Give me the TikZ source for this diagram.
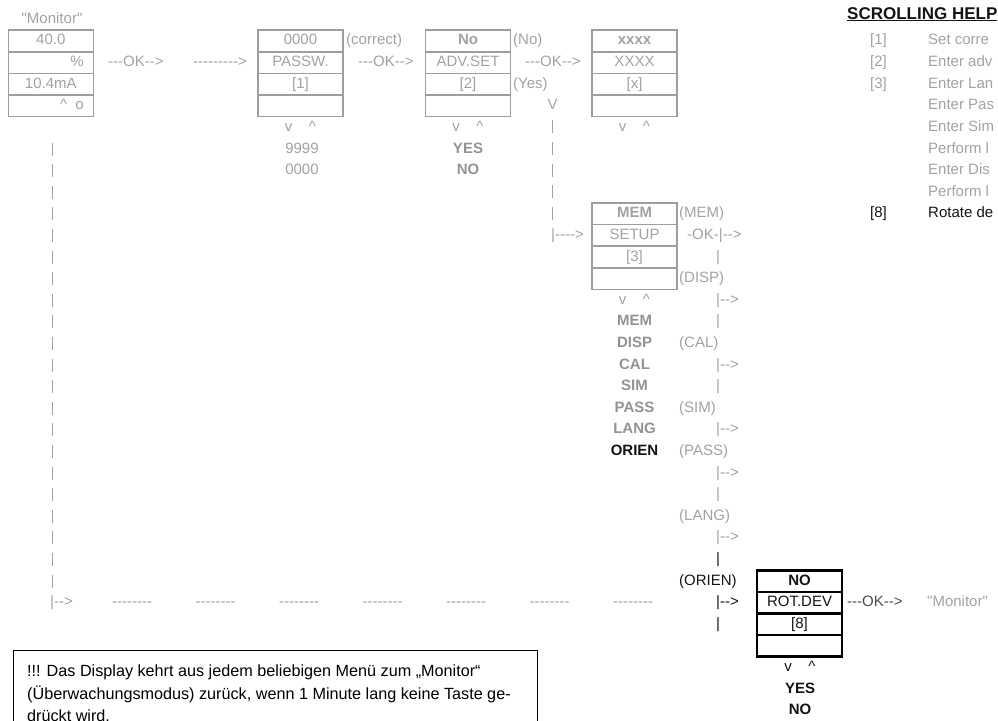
\documentclass[tikz,border=0pt]{standalone}
\usepackage{fontspec}
\newfontfamily\lcdfont{Liberation Sans}
\usetikzlibrary{calc}
\definecolor{lcdgray}{HTML}{A2A2A2}
\definecolor{lcdbold}{HTML}{939393}
\definecolor{lcdframe}{HTML}{9E9E9E}
\definecolor{lcdink}{HTML}{141414}
\definecolor{lcdokdark}{HTML}{4C4C4C}
\tikzset{
  graytext/.style={font=\lcdfont\fontsize{15}{18}\selectfont, text=lcdgray,
    inner sep=0pt, text height=11pt, text depth=3pt},
  graybold/.style={graytext, font=\lcdfont\bfseries\fontsize{15}{18}\selectfont, text=lcdbold},
  blacktext/.style={graytext, text=lcdink},
  blackbold/.style={graybold, text=lcdink},
  helphead/.style={blackbold, font=\lcdfont\bfseries\fontsize{17}{20}\selectfont},
  graybox/.style={draw=lcdframe, line width=1.6pt},
  blackbox/.style={draw=black, line width=2.6pt},
  bardash/.style={draw=lcdgray, line width=1pt, dash pattern=on 13pt off 8.6pt},
  notebox/.style={draw=black, line width=1.2pt},
  notetext/.style={font=\lcdfont\fontsize{16.2}{22.5}\selectfont, text=black,
    align=left, inner sep=0pt}
}
% one display screen: frame, row lines and the four text rows
\newcommand{\lcdbox}[9]{%
  \node[#1, minimum width=85pt, minimum height=86.4pt, inner sep=0pt] (#3) at (#4,#5+1.5) {};
  \foreach \r in {1,2,3}
    \draw[#1] (#4-42.5,#5-0.5+\r) -- (#4+42.5,#5-0.5+\r);
  \node[#2] (#3-a) at (#4,#5) {#6};
  \node[#2] (#3-b) at (#4,#5+1) {#7};
  \node[#2] (#3-c) at (#4,#5+2) {#8};
  \node[#2] (#3-d) at (#4,#5+3) {#9};
}

\begin{document}
\begin{tikzpicture}[x=1pt, y=-21.6pt, shift={(0pt,-41pt)}]
  \useasboundingbox (0,-1.8981) rectangle (998,31.4352);

  % top line of screens, x in pt, y in text rows
  \node[graytext] (montitle) at (52,-1) {"Monitor"};
  \lcdbox{graybox}{graytext}{monitor}{50.8}{0}{40.0}{\makebox[66pt][r]{\%}}{10.4mA}%
    {\makebox[66pt][r]{\textasciicircum\ \ o}}
  \node[graytext, anchor=west] (ok1) at (108,1) {---OK-->};
  \node[graytext, anchor=west] (go1) at (193,1) {--------->};

  \lcdbox{graybox}{graytext}{passw}{300.5}{0}{0000}{PASSW.}{[1]}{}
  \node[graytext, anchor=west] (correct) at (346,0) {(correct)};
  \node[graytext, anchor=west] (ok2) at (358,1) {---OK-->};

  \lcdbox{graybox}{graytext}{advset}{468}{0}{\textbf{No}}{ADV.SET}{[2]}{}
  \node[graytext, anchor=west] (advno) at (513,0) {(No)};
  \node[graytext, anchor=west] (ok3) at (525,1) {---OK-->};
  \node[graytext, anchor=west] (advyes) at (513,2) {(Yes)};
  \node[graytext] (yesdown) at (552.5,3) {V};

  \lcdbox{graybox}{graytext}{xxxx}{634.5}{0}{\textbf{xxxx}}{XXXX}{[x]}{}

  \foreach \name/\x in {passw/300.5, advset/468, xxxx/634.5} {
    \node[graytext] (\name-dn) at (\x-12,4) {v};
    \node[graytext] (\name-up) at (\x+12,4) {\textasciicircum};
  }
  \node[graytext] (pw9) at (302,5) {9999};
  \node[graytext] (pw0) at (302,6) {0000};
  \node[graybold] (advyesv) at (468,5) {YES};
  \node[graybold] (advnov) at (468,6) {NO};

  % memory setup branch
  \node[graytext, anchor=west] (memin) at (551,9) {|---->};
  \coordinate (yesrun) at (552.5,3.68);
  \draw[bardash] (yesrun) -- (yesrun |- memin.north);

  \lcdbox{graybox}{graytext}{mem}{634.5}{8}{\textbf{MEM}}{SETUP}{[3]}{}
  \node[graytext, anchor=west] (memlbl) at (679,8) {(MEM)};
  \node[graytext, anchor=west] (memok) at (687,9) {-OK-|-->};
  \node[graytext] (mem-dn) at (622.5,12) {v};
  \node[graytext] (mem-up) at (646.5,12) {\textasciicircum};
  \foreach \r/\t in {13/MEM,14/DISP,15/CAL,16/SIM,17/PASS,18/LANG}
    \node[graybold] (item\r) at (634.5,\r) {\t};
  \node[blackbold] (item19) at (634.5,19) {ORIEN};

  \foreach \r/\t in {11/(DISP),14/(CAL),17/(SIM),19/(PASS),22/(LANG)}
    \node[graytext, anchor=west] (lbl\r) at (679,\r) {\t};
  \foreach \r in {12,15,18,20,23}
    \node[graytext, anchor=west] (arr\r) at (716,\r) {|-->};
  \foreach \r in {10,13,16,21}
    \node[graytext] (bar\r) at (718,\r) {|};
  \node[blacktext] (bar24) at (718,24) {|};
  \node[blacktext, anchor=west] (lbl25) at (679,25) {(ORIEN)};
  \node[blacktext, anchor=west] (arr26) at (716,26) {|-->};
  \node[blacktext] (bar27) at (718,27) {|};

  % return line from the monitor
  \node[graytext, anchor=west] (monret) at (50,26) {|-->};
  \coordinate (monrun) at (52,4.7);
  \draw[bardash] (monrun) -- (monrun |- monret.north);
  \foreach \x [count=\i] in {112,195.5,279,362.5,446,529.5,613}
    \node[graytext, anchor=west] (gap\i) at (\x,26) {--------};

  \lcdbox{blackbox}{blacktext}{rotdev}{799.5}{25}{\textbf{NO}}{ROT.DEV}{[8]}{}
  \node[blacktext, text=lcdokdark, anchor=west] (ok4) at (847,26) {---OK-->};
  \node[graytext, anchor=west] (monback) at (927,26) {"Monitor"};
  \node[blacktext] (rotdev-dn) at (788,29) {v};
  \node[blacktext] (rotdev-up) at (812,29) {\textasciicircum};
  \node[blackbold] (rotyes) at (800,30) {YES};
  \node[blackbold] (rotno) at (800,31) {NO};

  % help column
  \node[helphead, anchor=west] (helptitle) at (847,-1.2) {\underline{SCROLLING HELP}};
  \foreach \r/\t in {0/[1],1/[2],2/[3]}
    \node[graytext, anchor=west] (key\r) at (870,\r) {\t};
  \foreach \r/\t in {0/Set corre,1/Enter adv,2/Enter Lan,3/Enter Pas,4/Enter Sim,
                     5/Perform l,6/Enter Dis,7/Perform l}
    \node[graytext, anchor=west] (help\r) at (928,\r) {\t};
  \node[blacktext, anchor=west] (key8) at (870,8) {[8]};
  \node[blacktext, anchor=west] (help8) at (928,8) {Rotate de};

  % timeout note
  \node[notebox, anchor=north west, minimum width=524pt, minimum height=120pt,
    inner sep=0pt] (notebox) at (12.7,28.2) {};
  \node[notetext, anchor=west] (note) at (27,30.2)
    {!!! Das Display kehrt aus jedem beliebigen Menü zum „Monitor“\\
     (Überwachungsmodus) zurück, wenn 1 Minute lang keine Taste ge-\\
     drückt wird.};
\end{tikzpicture}
\end{document}
